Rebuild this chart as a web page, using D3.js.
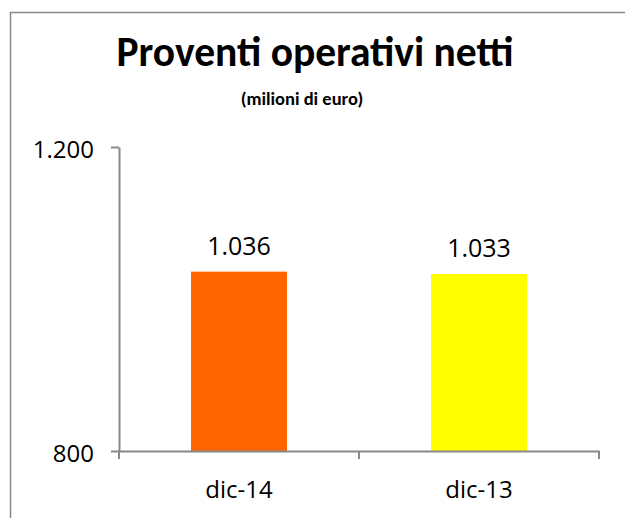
<!DOCTYPE html>
<html><head><meta charset="utf-8">
<script src="https://cdn.jsdelivr.net/npm/d3@7"></script>
<style>
html,body{margin:0;padding:0;background:#fff;}
svg{display:block;}
text{fill:#000;}
</style></head>
<body>
<svg id="c" width="625" height="518"></svg>
<script>
const categories = ["dic-14", "dic-13"];
const values = [1036, 1033];
const colors = ["#FF6600", "#FFFF00"];
const yTicks = [800, 1200];
const title = "Proventi operativi netti";
const subtitle = "(milioni di euro)";

const TFONT = "Carlito,Calibri,Lato,sans-serif";
const NFONT = "'Open Sans',sans-serif";

const svg = d3.select("#c");
const W = 625, H = 518;
const margin = {left: 119, right: 26, top: 147, bottom: 67};
const itLocale = d3.formatLocale({decimal: ",", thousands: ".", grouping: [3], currency: ["€", ""]});
const fmt = itLocale.format(",d");

// frame
svg.append("rect").attr("x", 10.5).attr("y", 12.5).attr("width", 700).attr("height", 600)
  .attr("fill", "none").attr("stroke", "#888").attr("stroke-width", 1.5);

const x = d3.scaleBand().domain(categories).range([margin.left, W - margin.right]).paddingInner(0.6).paddingOuter(0.3);
const xb = d3.scaleBand().domain(categories).range([margin.left, W - margin.right]);
const y = d3.scaleLinear().domain([800, 1200]).range([H - margin.bottom, margin.top]);

// title
svg.append("text").attr("x", 315).attr("y", 66).attr("text-anchor", "middle")
  .attr("font-family", TFONT).attr("font-size", 41.5).attr("font-weight", "bold").text(title);
svg.append("text").attr("x", 302).attr("y", 105).attr("text-anchor", "middle")
  .attr("font-family", TFONT).attr("font-size", 18.5).attr("font-weight", "bold").text(subtitle);

// bars
svg.append("g").selectAll("rect").data(values).join("rect")
  .attr("x", (d, i) => x(categories[i]))
  .attr("width", x.bandwidth())
  .attr("y", d => y(d))
  .attr("height", d => y(800) - y(d))
  .attr("fill", (d, i) => colors[i]);

// data labels
svg.append("g").selectAll("text").data(values).join("text")
  .attr("x", (d, i) => x(categories[i]) + x.bandwidth() / 2)
  .attr("y", d => y(d) - 17)
  .attr("text-anchor", "middle").attr("font-family", NFONT).attr("font-size", 25)
  .text(d => fmt(d));

// y axis
const yAxis = svg.append("g").attr("transform", `translate(${margin.left},0)`)
  .call(d3.axisLeft(y).tickValues(yTicks).tickFormat(fmt).tickSize(8).tickSizeOuter(0).tickPadding(17));
yAxis.select(".domain").attr("stroke", "#888").attr("stroke-width", 2);
yAxis.selectAll(".tick line").attr("stroke", "#888").attr("stroke-width", 2);
yAxis.selectAll(".tick text").attr("font-size", 24).attr("font-family", NFONT).attr("fill", "#000")
  .attr("y", 3);

// x axis
const xAxis = svg.append("g").attr("transform", `translate(0,${y(800)})`)
  .call(d3.axisBottom(xb).tickSize(0).tickSizeOuter(0).tickPadding(30));
xAxis.select(".domain").attr("stroke", "#888").attr("stroke-width", 2);
xAxis.selectAll(".tick text").attr("font-size", 24).attr("font-family", NFONT).attr("fill", "#000");
const bounds = categories.map(c => xb(c)).concat([xb.range()[1]]);
xAxis.selectAll(".bt").data(bounds).join("line").attr("class", "bt")
  .attr("x1", d => d).attr("x2", d => d).attr("y1", 0).attr("y2", 8)
  .attr("stroke", "#888").attr("stroke-width", 2);
</script>
</body></html>
